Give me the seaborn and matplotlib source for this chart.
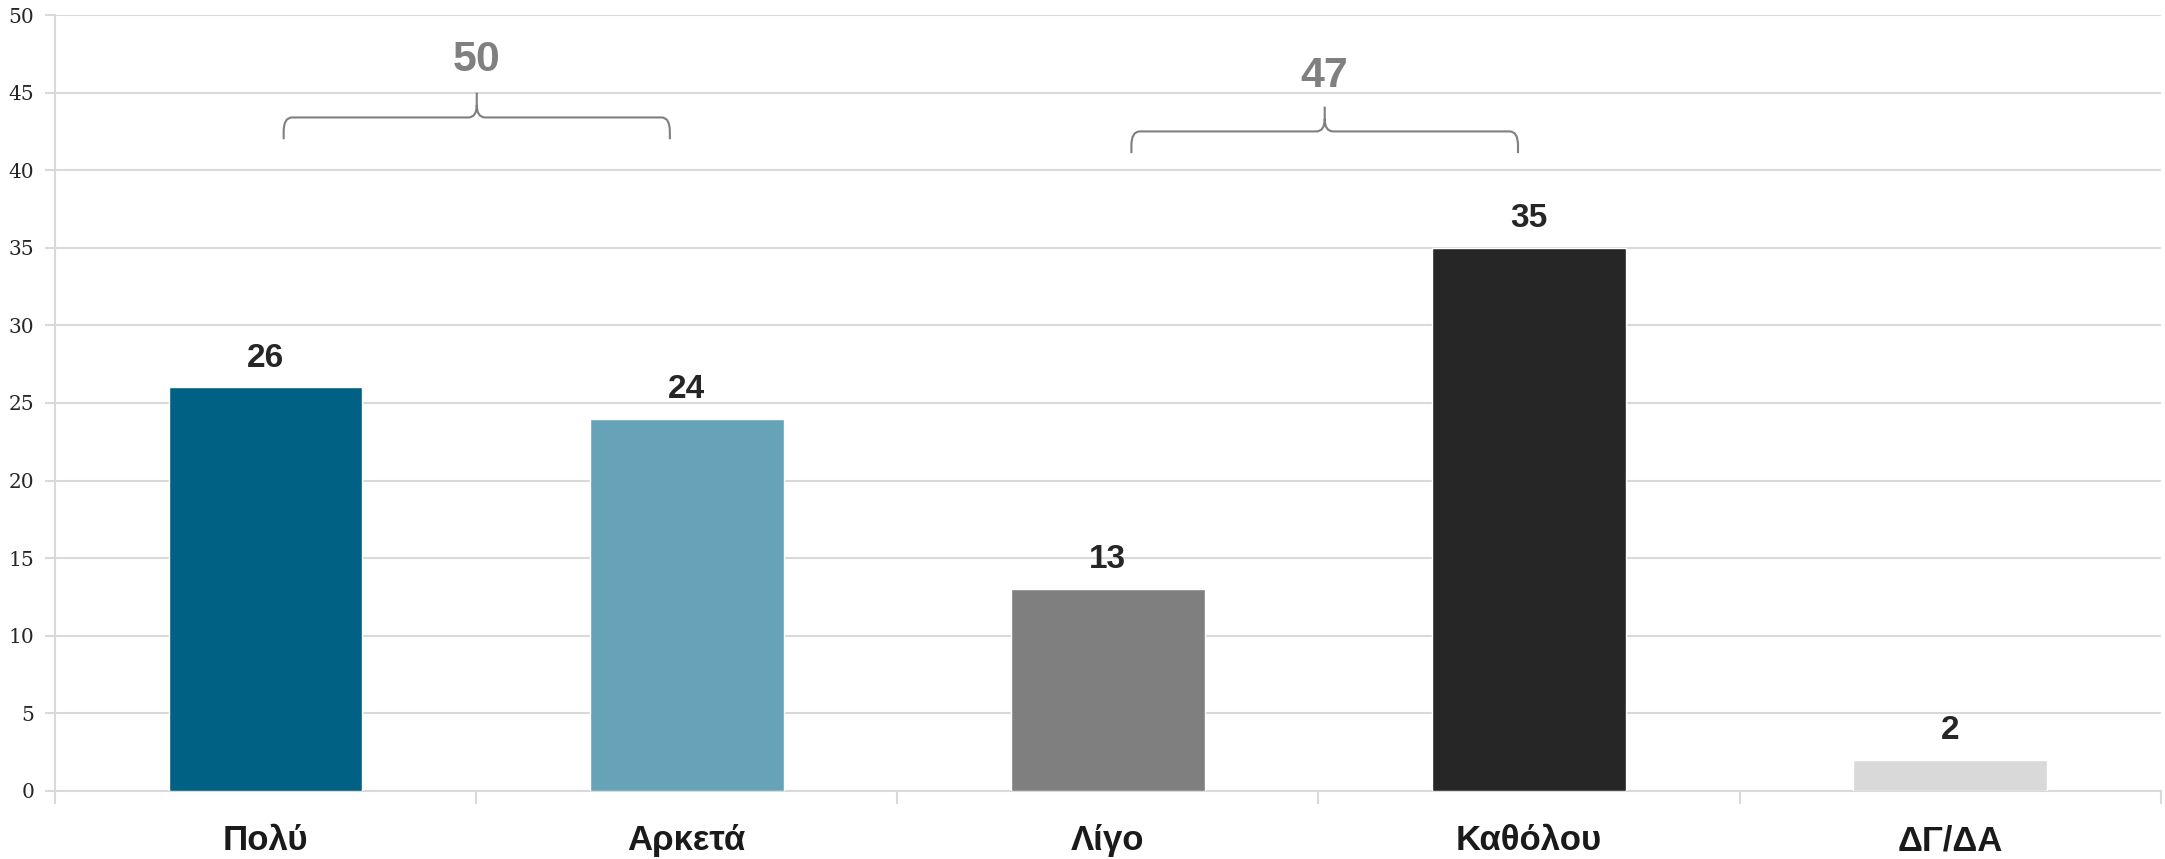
import matplotlib
matplotlib.use("Agg")
import matplotlib.pyplot as plt
from matplotlib.path import Path
from matplotlib.patches import PathPatch
import seaborn as sns
import pandas as pd

categories = ["Πολύ", "Αρκετά", "Λίγο", "Καθόλου", "ΔΓ/ΔΑ"]
values = [26, 24, 13, 35, 2]
colors = ["#006185", "#66A3B8", "#7F7F7F", "#262626", "#D9D9D9"]
group_totals = [50, 47]

sns.set_theme(style="white")
plt.rcParams["font.family"] = ["Liberation Sans Narrow", "Liberation Sans", "DejaVu Sans"]

df = pd.DataFrame({"cat": categories, "val": values})

fig = plt.figure(figsize=(21.65, 8.59), dpi=100)
ax = fig.add_axes([0.0254, 0.0792, 0.9726, 0.9033])

sns.barplot(data=df, x="cat", y="val", hue="cat", palette=colors, legend=False,
            width=0.46, saturation=1, ax=ax, zorder=3)

ax.set_xlim(-0.5, 4.5)
ax.set_ylim(0, 50)
ax.set_yticks(range(0, 51, 5))
ax.yaxis.grid(True, color="#D9D9D9", linewidth=1.5, zorder=0)
ax.set_axisbelow(True)
for s in ["top", "right"]:
    ax.spines[s].set_visible(False)
ax.spines["left"].set_color("#D9D9D9")
ax.spines["left"].set_linewidth(1.5)
ax.spines["bottom"].set_color("#D9D9D9")
ax.spines["bottom"].set_linewidth(1.5)
ax.set_xlabel("")
ax.set_ylabel("")

# y tick labels (serif)
ax.tick_params(axis="y", which="major", left=True, direction="out", length=7,
               width=1.5, color="#D9D9D9", pad=8)
for lab in ax.get_yticklabels():
    lab.set_fontfamily("DejaVu Serif")
    lab.set_fontsize(14.5)
    lab.set_color("#262626")

# x: labels at centres without ticks, ticks at boundaries
ax.set_xticks(range(len(categories)))
ax.set_xticklabels(categories, fontsize=25, fontweight="bold", color="#1a1a1a")
ax.tick_params(axis="x", which="major", bottom=True, length=0, pad=24)
ax.set_xticks([i - 0.5 for i in range(len(categories) + 1)], minor=True)
ax.tick_params(axis="x", which="minor", bottom=True, direction="out", length=9,
               width=1.5, color="#D9D9D9")

# value labels
for i, v in enumerate(values):
    ax.text(i, v + 0.9, f"{v}", ha="center", va="bottom", fontsize=24,
            fontweight="bold", color="#262626")


def brace(ax, x0, x1, ybot, ymid, ytip, rx=0.02, ry=0.9):
    xc = (x0 + x1) / 2
    verts = [
        (x0, ybot), (x0, ymid - ry), (x0, ymid), (x0 + rx, ymid),
        (xc - rx, ymid), (xc, ymid), (xc, ymid + ry * 0.9), (xc, ytip),
        (xc, ymid + ry * 0.9), (xc, ymid), (xc + rx, ymid),
        (x1 - rx, ymid), (x1, ymid), (x1, ymid - ry), (x1, ybot),
    ]
    codes = [
        Path.MOVETO, Path.LINETO, Path.CURVE3, Path.CURVE3,
        Path.LINETO, Path.CURVE3, Path.CURVE3, Path.LINETO,
        Path.MOVETO, Path.CURVE3, Path.CURVE3,
        Path.LINETO, Path.CURVE3, Path.CURVE3, Path.LINETO,
    ]
    ax.add_patch(PathPatch(Path(verts, codes), fill=False, edgecolor="#7F7F7F",
                           linewidth=1.5, clip_on=False, zorder=4))


brace(ax, 0.043, 0.96, 42.0, 43.4, 45.0)
ax.text((0.043 + 0.96) / 2, 47.1, f"{group_totals[0]}", ha="center", va="center",
        fontsize=31, fontweight="bold", color="#808080")
brace(ax, 2.056, 2.974, 41.1, 42.5, 44.1)
ax.text((2.056 + 2.974) / 2, 46.1, f"{group_totals[1]}", ha="center", va="center",
        fontsize=31, fontweight="bold", color="#808080")

fig.savefig("out.png", dpi=100)
